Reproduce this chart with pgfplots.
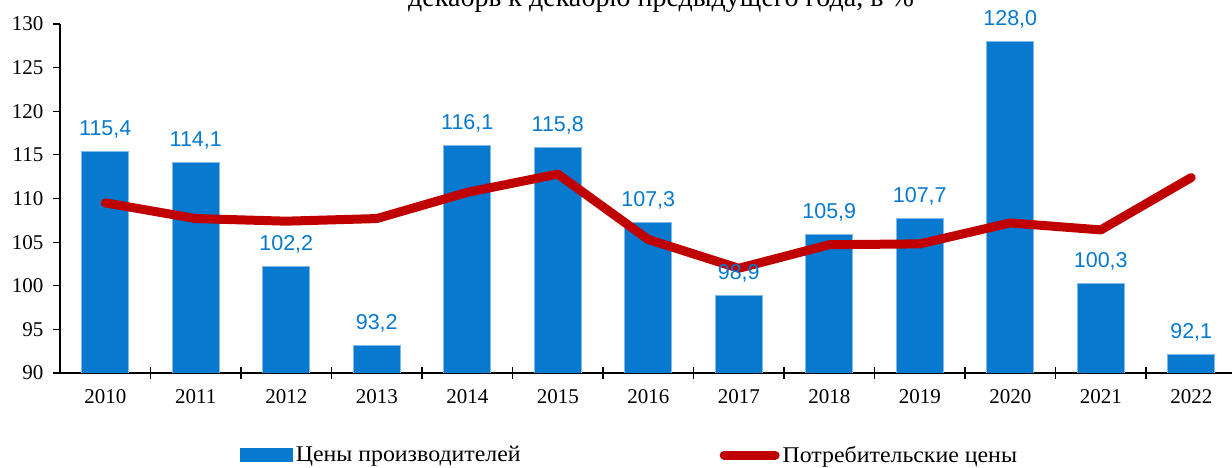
\documentclass[border=0pt]{standalone}
\usepackage{pgfplots}
\pgfplotsset{compat=1.18}
\usepackage{fontspec}
\setmainfont{Liberation Serif}
\newfontfamily\arialfont{Liberation Sans}
\newfontfamily\legfont[FakeStretch=1.06]{Liberation Serif}
\definecolor{barblue}{RGB}{7,121,206}
\definecolor{baredge}{RGB}{130,185,232}
\definecolor{cpired}{RGB}{192,0,0}
\begin{document}
\begin{tikzpicture}
\begin{axis}[
  at={(60pt,95pt)}, anchor=south west,
  scale only axis, width=1176.5pt, height=349pt,
  xmin=-0.5, xmax=12.5, ymin=90, ymax=130,
  ytick={90,95,...,130},
  xtick={0,...,12},
  xticklabels={2010,2011,2012,2013,2014,2015,2016,2017,2018,2019,2020,2021,2022},
  minor x tick num=1,
  axis x line=bottom, axis y line=left,
  axis line style={-, black, line width=1.2pt},
  tick align=outside,
  major tick length=7pt,
  minor tick length=12pt,
  major x tick style={draw=none},
  minor x tick style={black, line width=1.2pt, yshift=6pt},
  ytick style={black, line width=1.2pt},
  /pgf/number format/assume math mode=true,
  tick label style={font=\fontsize{21}{24}\selectfont},
  yticklabel style={xshift=-6pt},
  xticklabel style={yshift=-6pt},
  legend columns=2,
  legend style={at={(0.153,-0.235)}, anchor=west, draw=none, fill=none,
    inner sep=0pt, outer sep=0pt,
    font=\legfont\fontsize{22.5}{26}\selectfont,
    nodes={inner sep=0pt},
    /tikz/every odd column/.append style={column sep=3pt},
    /tikz/every even column/.append style={column sep=199pt}},
]
\addplot[ybar, bar width=47pt, fill=barblue, draw=baredge, line width=0.8pt,
  nodes near coords={\pgfmathprintnumber[fixed,fixed zerofill,precision=1,use comma]{\pgfplotspointmeta}},
  every node near coord/.append style={anchor=base, yshift=16pt, text=barblue,
     font=\arialfont\fontsize{21.5}{24}\selectfont},
  legend image code/.code={\fill[barblue] (0pt,-6.5pt) rectangle (52pt,6.5pt);}]
  coordinates {(0,115.4) (1,114.1) (2,102.2) (3,93.2) (4,116.1) (5,115.8) (6,107.3)
    (7,98.9) (8,105.9) (9,107.7) (10,128.0) (11,100.3) (12,92.1)};
\addlegendentry{Цены производителей}
\addplot[cpired, line width=9pt, line cap=round, line join=round, mark=none,
  legend image code/.code={\draw[cpired, line width=9pt, line cap=round] (4.5pt,0pt) -- (55.5pt,0pt);}]
  coordinates {(0,109.5) (1,107.7) (2,107.4) (3,107.7) (4,110.7) (5,112.8) (6,105.3)
    (7,102.0) (8,104.7) (9,104.8) (10,107.2) (11,106.4) (12,112.4)};
\addlegendentry{Потребительские цены}
\end{axis}
\node[font=\fontsize{28}{32}\selectfont, anchor=base] at (661pt,461pt) {декабрь к декабрю предыдущего года, в \%};
\pgfresetboundingbox
\useasboundingbox (0pt,0pt) rectangle (1232pt,468pt);
\end{tikzpicture}
\end{document}
